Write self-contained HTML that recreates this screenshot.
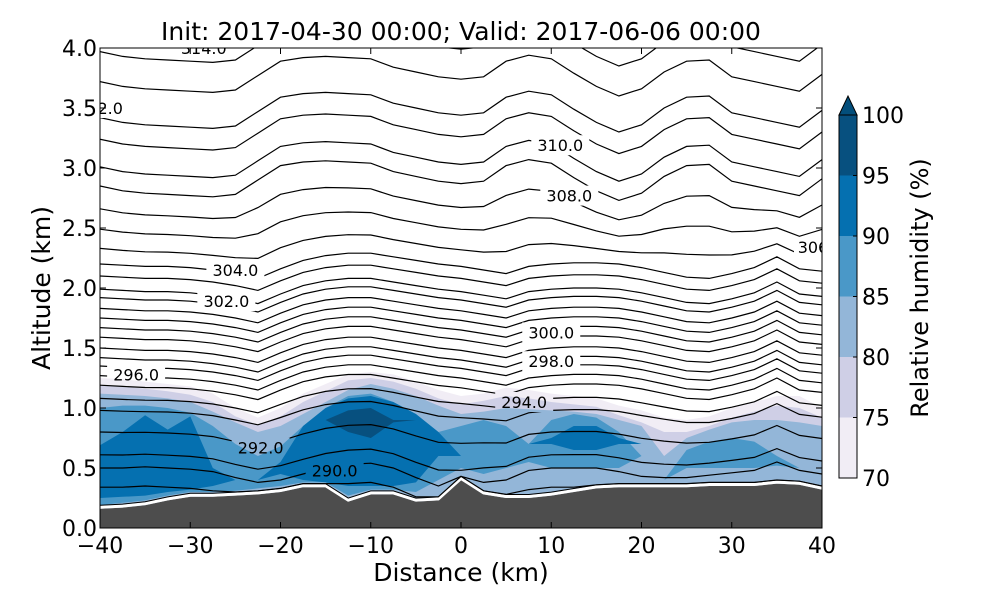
<!DOCTYPE html>
<html><head><meta charset="utf-8">
<style>
html,body{margin:0;padding:0;background:#fff;}
svg{display:block;font-family:"DejaVu Sans","Liberation Sans",sans-serif;}
</style></head>
<body>
<svg id="chart" width="1000" height="600" viewBox="0 0 1000 600" xmlns="http://www.w3.org/2000/svg">
<defs>
<clipPath id="plotclip"><rect x="100" y="48" width="722" height="480"/></clipPath>
<mask id="labelmask" maskUnits="userSpaceOnUse" x="0" y="0" width="1000" height="600"><rect id="maskbg" x="0" y="0" width="1000" height="600" fill="#fff"/></mask>
</defs>
<g id="plot" clip-path="url(#plotclip)"></g>
<g id="axes"></g>
<g id="cbar"></g>
</svg>
<script>
// ---- data ----
const dist = [-40,-37.5,-35,-32.5,-30,-27.5,-25,-22.5,-20,-17.5,-15,-12.5,-10,-7.5,-5,-2.5,0,2.5,5,7.5,10,12.5,15,17.5,20,22.5,25,27.5,30,32.5,35,37.5,40];
const terrain = [0.16,0.17,0.19,0.23,0.26,0.26,0.27,0.28,0.30,0.34,0.34,0.22,0.28,0.28,0.22,0.23,0.40,0.28,0.25,0.25,0.27,0.30,0.33,0.34,0.34,0.34,0.34,0.35,0.35,0.35,0.37,0.36,0.32];
const rh70Top = [1.25,1.24,1.22,1.20,1.18,1.12,1.00,0.92,1.00,1.12,1.20,1.28,1.30,1.28,1.22,1.15,1.10,1.12,1.17,1.15,1.12,1.10,1.08,1.02,0.98,0.92,0.90,0.93,1.00,1.05,1.10,1.10,1.00];
const rh75Top = [1.19,1.18,1.16,1.14,1.11,1.05,0.93,0.86,0.93,1.05,1.14,1.23,1.25,1.22,1.16,1.08,1.03,1.06,1.10,1.08,1.05,1.03,1.01,0.94,0.88,0.80,0.80,0.85,0.92,0.97,1.02,1.00,0.92];
const rh80Top = [1.12,1.11,1.10,1.08,1.05,0.97,0.88,0.80,0.85,0.95,1.05,1.15,1.20,1.16,1.10,1.02,0.95,0.97,1.00,0.99,0.98,0.97,0.95,0.90,0.85,0.60,0.75,0.82,0.88,0.90,0.90,0.88,0.85];
const rh85Top = [1.00,1.02,1.02,1.00,0.96,0.85,0.70,0.60,0.68,0.85,1.00,1.10,1.12,1.05,0.95,0.80,0.85,0.90,0.85,0.70,0.90,0.95,0.92,0.80,0.60,0.40,0.65,0.72,0.75,0.72,0.60,0.50,0.45];
const rh85Bot = [0.19,0.21,0.23,0.27,0.30,0.30,0.31,0.33,0.35,0.38,0.38,0.27,0.32,0.32,0.30,0.40,0.50,0.45,0.50,0.55,0.50,0.50,0.50,0.50,0.60,0.40,0.50,0.50,0.50,0.50,0.52,0.50,0.45];
const rh90Top = [0.69,0.80,0.94,0.82,0.93,0.50,0.40,0.40,0.55,0.85,1.00,1.08,1.10,1.05,0.95,0.80,0.60,0.60,0.60,0.70,0.75,0.85,0.85,0.75,0.70,0.70,0.70,0.70,0.70,0.70,0.70,0.70,0.70];
const rh90Bot = [0.25,0.26,0.27,0.30,0.32,0.35,0.40,0.40,0.45,0.40,0.38,0.35,0.35,0.35,0.38,0.60,0.60,0.60,0.60,0.70,0.70,0.65,0.65,0.70,0.70,0.70,0.70,0.70,0.70,0.70,0.70,0.70,0.70];
const rh95Top = [0.90,0.90,0.90,0.90,0.90,0.90,0.90,0.90,0.90,0.90,0.90,0.98,1.00,0.90,0.90,0.90,0.90,0.90,0.90,0.90,0.90,0.90,0.90,0.90,0.90,0.90,0.90,0.90,0.90,0.90,0.90,0.90,0.90];
const rh95Bot = [0.90,0.90,0.90,0.90,0.90,0.90,0.90,0.90,0.90,0.90,0.90,0.80,0.75,0.88,0.90,0.90,0.90,0.90,0.90,0.90,0.90,0.90,0.90,0.90,0.90,0.90,0.90,0.90,0.90,0.90,0.90,0.90,0.90];
// isentrope heights at the left edge (km)
const lineBase = [3.97,3.72,3.42,3.24,3.01,2.85,2.66,2.49,2.33,2.20,2.10,1.99,1.92,1.83,1.75,1.67,1.59,1.50,1.42,1.35,1.27,1.19,1.08,0.98,0.80,0.61,0.50,0.34];
// deviation profiles (km)
const devUpper = [0,-0.04,-0.06,-0.07,-0.08,-0.09,-0.07,0.05,0.17,0.20,0.21,0.20,0.19,0.12,0.08,0.04,0.02,0.04,0.17,0.22,0.19,0.07,-0.04,-0.12,-0.06,0.08,0.17,0.18,0.04,0,-0.04,-0.08,0.06];
const devMid = [0,-0.01,-0.02,-0.02,-0.03,-0.05,-0.08,-0.12,-0.04,0.03,0.07,0.09,0.09,0.06,0.03,0,-0.02,-0.05,-0.08,-0.02,0,0.01,0.01,0,-0.03,-0.07,-0.11,-0.12,-0.08,-0.03,0.06,-0.04,-0.06];
const devLow = [0,0,0.01,0,-0.01,-0.03,-0.08,-0.12,-0.10,-0.05,0,0.03,0.04,0,-0.08,-0.15,-0.15,-0.12,-0.10,-0.02,0,0,0,-0.03,-0.07,-0.08,-0.08,-0.06,-0.04,-0.02,0.05,-0.02,-0.05];
const labelText = ["296.0","292.0","290.0","294.0","298.0","300.0","302.0","304.0","308.0","310.0","306","312.0","314.0"];
const labelPos = [[-36,1.28],[-22.2,0.67],[-14,0.48],[7,1.05],[10,1.39],[10,1.63],[-26,1.89],[-25,2.15],[12,2.77],[11,3.19],[39,2.34],[-40,3.5],[-28.5,4.0]];
const xTicks = [-40,-30,-20,-10,0,10,20,30,40];
const yTicks = [0.0,0.5,1.0,1.5,2.0,2.5,3.0,3.5,4.0];
const cbLevels = [70,75,80,85,90,95,100];
const cbColors = ["#f1edf5","#cfcfe6","#93b6d8","#4a98c8","#0570b0","#07507f"];

// ---- axes functions ----
const X0=100,X1=822,Y0=528,Y1=48;
const sx = d => X0 + (d+40)/80*(X1-X0);
const sy = a => Y0 - a/4*(Y0-Y1);
const NS="http://www.w3.org/2000/svg";
function mk(tag, attrs, parent){const e=document.createElementNS(NS,tag);for(const k in attrs)e.setAttribute(k,attrs[k]);parent.appendChild(e);return e;}
const plot=document.getElementById('plot'), axes=document.getElementById('axes'), cbar=document.getElementById('cbar');
const mask=document.getElementById('labelmask');

function bandPath(bot, top){
  let p='M'+dist.map((d,i)=>sx(d).toFixed(1)+','+sy(top[i]).toFixed(1)).join(' L');
  for(let i=dist.length-1;i>=0;i--) p+=' L'+sx(dist[i]).toFixed(1)+','+sy(bot[i]).toFixed(1);
  return p+' Z';
}
const bands=[[terrain,rh70Top,0,'rh-band-70'],[terrain,rh75Top,1,'rh-band-75'],[terrain,rh80Top,2,'rh-band-80'],[rh85Bot,rh85Top,3,'rh-band-85'],[rh90Bot,rh90Top,4,'rh-band-90'],[rh95Bot,rh95Top,5,'rh-band-95']];
bands.forEach(b=>{
  const e=mk('path',{d:bandPath(b[0],b[1]),fill:cbColors[b[2]],stroke:'none'},plot);
  
  
});
// label gaps in the mask
labelText.forEach((t,i)=>{
  const x=sx(labelPos[i][0]), y=sy(labelPos[i][1]);
  const w=t.length*10+8;
  mk('rect',{x:x-w/2,y:y-10,width:w,height:20,fill:'#000'},mask);
});
const lineGroup=mk('g',{mask:'url(#labelmask)'},plot);


lineBase.forEach((base,li)=>{
  const pts=dist.map((d,i)=>{
    let dev;
    if(base>=2.8) dev=devUpper[i];
    else if(base>=2.2){const w=(base-2.2)/0.6; dev=w*devUpper[i]+(1-w)*devMid[i];}
    else if(base>=1.2) dev=devMid[i];
    else {const w=Math.max(0,(base-0.5)/0.7); dev=w*devMid[i]+(1-w)*devLow[i];}
    let a=base+dev; if(a<terrain[i]+0.03) a=terrain[i]+0.03;
    return sx(d).toFixed(1)+','+sy(a).toFixed(1);
  });
  const e=mk('polyline',{points:pts.join(' '),fill:'none',stroke:'#000','stroke-width':1.2},lineGroup);
  
  
});
labelText.forEach((t,i)=>{
  const x=sx(labelPos[i][0]), y=sy(labelPos[i][1]);
  const tx=mk('text',{x:x,y:y+6,'text-anchor':'middle','font-size':16,fill:'#000'},plot);
  tx.textContent=t;
  
  
});
{
  let p='M'+sx(-40)+','+Y0+' L'+dist.map((d,i)=>sx(d).toFixed(1)+','+sy(terrain[i]).toFixed(1)).join(' L')+' L'+sx(40)+','+Y0+' Z';
  const g=mk('path',{d:p,fill:'#4d4d4d'},plot);
  
  
  const pl=dist.map((d,i)=>sx(d).toFixed(1)+','+(sy(terrain[i])-1.5).toFixed(1)).join(' ');
  const w=mk('polyline',{points:pl,fill:'none',stroke:'#fff','stroke-width':3},plot);
  
  
  const pk=dist.map((d,i)=>sx(d).toFixed(1)+','+(sy(terrain[i])-3.5).toFixed(1)).join(' ');
  const k=mk('polyline',{points:pk,fill:'none',stroke:'#000','stroke-width':1},plot);
  
  
}
{
  const f=mk('rect',{x:X0,y:Y1,width:X1-X0,height:Y0-Y1,fill:'none',stroke:'#000','stroke-width':1},axes);
  
  
}
xTicks.forEach(v=>{
  const x=sx(v);
  mk('line',{x1:x,y1:Y0,x2:x,y2:Y0-6,stroke:'#000'},axes);
  mk('line',{x1:x,y1:Y1,x2:x,y2:Y1+6,stroke:'#000'},axes);
  const t=mk('text',{x:x,y:Y0+25,'text-anchor':'middle','font-size':22},axes);
  t.textContent=(v<0?'\u2212':'')+Math.abs(v);
  
  
});
yTicks.forEach(v=>{
  const y=sy(v);
  mk('line',{x1:X0,y1:y,x2:X0+6,y2:y,stroke:'#000'},axes);
  mk('line',{x1:X1,y1:y,x2:X1-6,y2:y,stroke:'#000'},axes);
  const t=mk('text',{x:X0-3,y:y+8,'text-anchor':'end','font-size':22},axes);
  t.textContent=v.toFixed(1);
  
  
});
{
  const t=mk('text',{x:461,y:40,'text-anchor':'middle','font-size':25},axes);
  t.textContent='Init: 2017-04-30 00:00; Valid: 2017-06-06 00:00';
  
  
  const xl=mk('text',{x:461,y:581,'text-anchor':'middle','font-size':25},axes);
  xl.textContent='Distance (km)';
  
  
  const yl=mk('text',{x:50,y:288,'text-anchor':'middle','font-size':25,transform:'rotate(-90 50 288)'},axes);
  yl.textContent='Altitude (km)';
  
  
}
const CB0=839,CB1=857,CBT=115,CBB=478;
const cy=v=>CBB-(v-70)/30*(CBB-CBT);
cbColors.forEach((c,i)=>{
  const r=mk('rect',{x:CB0,y:cy(cbLevels[i+1]),width:CB1-CB0,height:cy(cbLevels[i])-cy(cbLevels[i+1]),fill:c},cbar);
  
  
});
{
  const tri=mk('polygon',{points:`${CB0},${CBT} ${CB1},${CBT} ${(CB0+CB1)/2},96`,fill:'#034e7b',stroke:'#000','stroke-width':1},cbar);
  
  
  const fr=mk('rect',{x:CB0,y:CBT,width:CB1-CB0,height:CBB-CBT,fill:'none',stroke:'#000','stroke-width':1},cbar);
  
  
}
cbLevels.forEach(v=>{
  const y=cy(v);
  mk('line',{x1:CB1,y1:y,x2:CB1-4,y2:y,stroke:'#000'},cbar);
  const t=mk('text',{x:CB1+5,y:y+8,'font-size':22},cbar);
  t.textContent=v;
  
  
});
{
  const t=mk('text',{x:928,y:288,'text-anchor':'middle','font-size':24,transform:'rotate(-90 928 288)'},cbar);
  t.textContent='Relative humidity (%)';
  
  
}
</script>
</body></html>
